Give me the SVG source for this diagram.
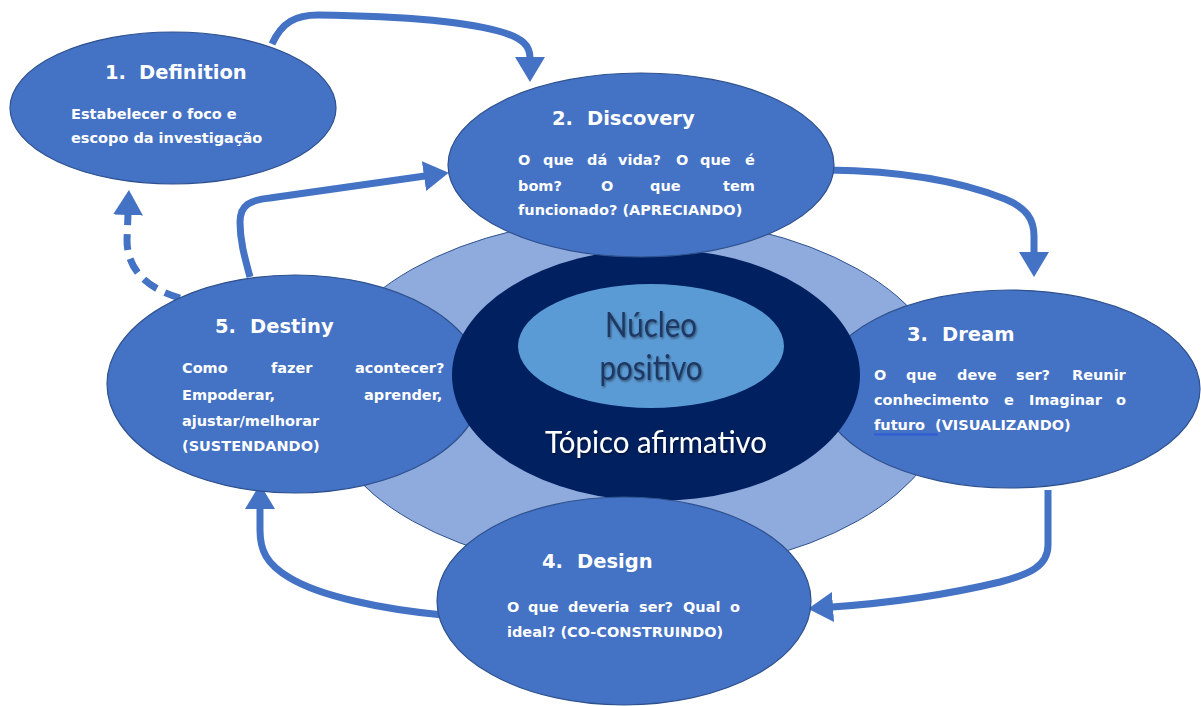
<svg xmlns="http://www.w3.org/2000/svg" width="1201" height="706" viewBox="0 0 1201 706">
  <defs>
    <style>
      .node { fill: #4472c4; stroke: #2f528f; stroke-width: 1.2; }
      .title { font-family: "DejaVu Sans", "Liberation Sans", sans-serif; font-weight: bold; font-size: 19.5px; fill: #ffffff; }
      .body { font-family: "DejaVu Sans", "Liberation Sans", sans-serif; font-weight: bold; font-size: 14.5px; fill: #ffffff; }
      .core-text { font-family: Lato, "Open Sans", sans-serif; text-anchor: middle; }
      .flow { fill: none; stroke: #4472c4; stroke-width: 7; marker-end: url(#head); }
      .dashed { stroke-dasharray: 16 9; }
    </style>
    <marker id="head" viewBox="0 0 25 30" refX="1" refY="15" markerWidth="25" markerHeight="30" markerUnits="userSpaceOnUse" orient="auto">
      <path d="M0,0 L25,15 L0,30 Z" fill="#4472c4"/>
    </marker>
    <filter id="shadow" x="-10%" y="-20%" width="120%" height="150%">
      <feDropShadow dx="1" dy="1.5" stdDeviation="1.2" flood-color="#000000" flood-opacity="0.45"/>
    </filter>
  </defs>

  <rect width="1201" height="706" fill="#ffffff"/>

  <!-- cycle arrows -->
  <g id="connectors">
    <path class="flow" d="M272 44 C282 22 296 15 318 15 C400 16 470 22 505 33 C522 39 530 45 530 58"/>
    <path class="flow" d="M250 277 C244 255 240 240 240 222 C240 205 250 200 270 198 L425 176"/>
    <path class="flow dashed" d="M180 298 C145 288 127 268 127 240 L128 214"/>
    <path class="flow" d="M828 170 C905 171 965 183 1005 199 C1027 208 1034 220 1034 236 L1034 253"/>
    <path class="flow" d="M1048 490 L1048 545 C1048 566 1030 574 1000 582 C950 594 890 603 832 607"/>
    <path class="flow" d="M443 615 C380 609 320 596 290 578 C266 564 260 550 260 530 L260 508"/>
  </g>

  <!-- outer ring behind the cycle -->
  <g id="ring">
    <ellipse cx="635" cy="395" rx="315" ry="178" fill="#8faadc" stroke="#2f528f" stroke-width="1"/>
  </g>

  <g id="destiny">
    <ellipse class="node" cx="295" cy="384" rx="188" ry="109"/>
    <text class="title" y="333"><tspan x="215">5.</tspan><tspan x="250">Destiny</tspan></text>
    <text class="body" y="373"><tspan x="182">Como</tspan><tspan x="271">fazer</tspan><tspan x="355">acontecer?</tspan></text>
    <text class="body" y="400"><tspan x="182">Empoderar,</tspan><tspan x="364">aprender,</tspan></text>
    <text class="body" x="182" y="426">ajustar/melhorar</text>
    <text class="body" x="182" y="451">(SUSTENDANDO)</text>
  </g>

  <g id="dream">
    <ellipse class="node" cx="1010" cy="389" rx="190" ry="99"/>
    <text class="title" y="341"><tspan x="907">3.</tspan><tspan x="942">Dream</tspan></text>
    <text class="body" y="380"><tspan x="874">O</tspan><tspan x="906">que</tspan><tspan x="957">deve</tspan><tspan x="1016">ser?</tspan><tspan x="1072">Reunir</tspan></text>
    <text class="body" y="405"><tspan x="874">conhecimento</tspan><tspan x="1004">e</tspan><tspan x="1029">Imaginar</tspan><tspan x="1116">o</tspan></text>
    <text class="body" y="430"><tspan x="874">futuro</tspan><tspan x="935">(VISUALIZANDO)</tspan></text>
    <line x1="874" y1="434.5" x2="938" y2="434.5" stroke="#2e5bd6" stroke-width="2"/>
  </g>

  <!-- affirmative topic with the positive core -->
  <g id="core">
    <ellipse cx="656" cy="375" rx="204" ry="126" fill="#002060"/>
    <ellipse cx="651" cy="346" rx="133" ry="62" fill="#5b9bd5"/>
    <g filter="url(#shadow)">
      <text class="core-text" x="651" y="337" font-size="34" fill="#1f3864" textLength="92" lengthAdjust="spacingAndGlyphs">Núcleo</text>
      <text class="core-text" x="651" y="380" font-size="34" fill="#1f3864" textLength="103" lengthAdjust="spacingAndGlyphs">positivo</text>
      <text class="core-text" x="656" y="453" font-size="30" fill="#ffffff" textLength="222" lengthAdjust="spacingAndGlyphs">Tópico afirmativo</text>
    </g>
  </g>

  <g id="discovery">
    <ellipse class="node" cx="641" cy="165" rx="193" ry="92"/>
    <text class="title" y="125"><tspan x="552">2.</tspan><tspan x="587">Discovery</tspan></text>
    <text class="body" y="165"><tspan x="518">O</tspan><tspan x="543">que</tspan><tspan x="587">dá</tspan><tspan x="618">vida?</tspan><tspan x="676">O</tspan><tspan x="700">que</tspan><tspan x="745">é</tspan></text>
    <text class="body" y="191"><tspan x="518">bom?</tspan><tspan x="601">O</tspan><tspan x="650">que</tspan><tspan x="723">tem</tspan></text>
    <text class="body" x="518" y="215">funcionado? (APRECIANDO)</text>
  </g>

  <g id="design">
    <ellipse class="node" cx="624" cy="601" rx="187" ry="104"/>
    <text class="title" y="568"><tspan x="542">4.</tspan><tspan x="577">Design</tspan></text>
    <text class="body" y="612"><tspan x="507">O</tspan><tspan x="528">que</tspan><tspan x="568">deveria</tspan><tspan x="639">ser?</tspan><tspan x="683">Qual</tspan><tspan x="730">o</tspan></text>
    <text class="body" x="507" y="637">ideal? (CO-CONSTRUINDO)</text>
  </g>

  <g id="definition">
    <ellipse class="node" cx="173" cy="108" rx="163" ry="76"/>
    <text class="title" y="79"><tspan x="105">1.</tspan><tspan x="139">Definition</tspan></text>
    <text class="body" x="71" y="119">Estabelecer o foco e</text>
    <text class="body" x="71" y="143">escopo da investigação</text>
  </g>
</svg>
